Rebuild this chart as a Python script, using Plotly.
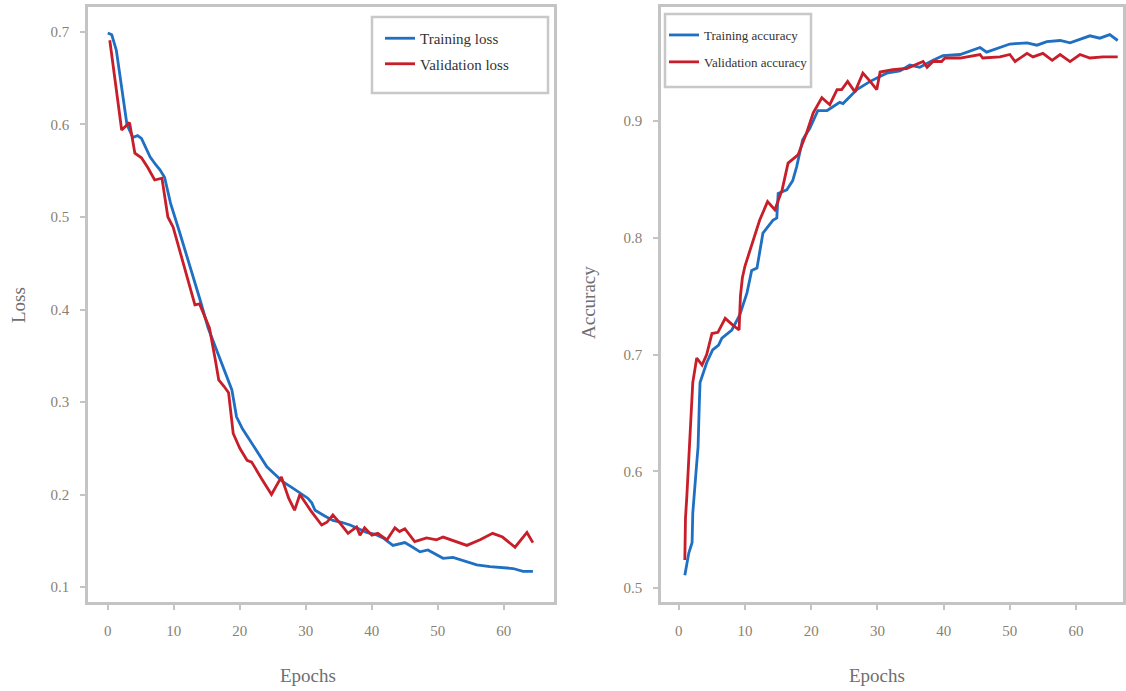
import plotly.graph_objects as go

# ---- Loss panel data ----
train_loss_epoch = [0, 0.6, 1.3, 1.8, 2.3, 2.9, 3.8, 4.5, 5.1, 5.8, 6.4, 7.2, 7.9, 8.6, 9.5, 10.9,
                    12.5, 14.0, 15.2, 16.5, 17.8, 18.8, 19.5, 20.4, 21.5, 22.8, 24.1, 25.3, 26.5,
                    27.8, 29.1, 30.3, 30.9, 31.4, 32.8, 34.1, 35.4, 36.7, 38.0, 39.2, 40.5, 41.7,
                    43.2, 45.0, 46.2, 47.3, 48.5, 49.7, 50.8, 52.3, 54.0, 55.9, 57.9, 59.6, 61.4,
                    62.9, 64.4]
train_loss = [0.699, 0.697, 0.680, 0.655, 0.626, 0.600, 0.586, 0.588, 0.585, 0.574, 0.565, 0.557,
              0.551, 0.543, 0.515, 0.483, 0.446, 0.410, 0.380, 0.355, 0.332, 0.313, 0.284, 0.271,
              0.259, 0.244, 0.230, 0.222, 0.214, 0.208, 0.202, 0.196, 0.191, 0.183, 0.177, 0.172,
              0.170, 0.167, 0.163, 0.159, 0.157, 0.153, 0.145, 0.148, 0.143, 0.138, 0.140, 0.135,
              0.131, 0.132, 0.128, 0.124, 0.122, 0.121, 0.120, 0.117, 0.117]

val_loss_epoch = [0.3, 1.2, 2.1, 2.7, 3.3, 4.1, 5.1, 6.1, 7.1, 8.2, 9.1, 9.9, 11.5, 13.2, 13.9,
                  15.4, 16.3, 16.8, 17.6, 18.3, 19.0, 20.0, 21.1, 21.8, 23.3, 24.8, 26.3, 27.4,
                  28.3, 29.1, 30.8, 32.4, 33.2, 34.1, 35.3, 36.4, 37.7, 38.2, 38.9, 40.0, 40.9,
                  42.3, 43.5, 44.2, 45.0, 46.5, 48.3, 49.8, 50.8, 52.3, 54.4, 56.4, 58.3, 59.8,
                  61.7, 63.5, 64.4]
val_loss = [0.691, 0.640, 0.594, 0.598, 0.602, 0.569, 0.564, 0.553, 0.540, 0.542, 0.500, 0.489,
            0.447, 0.405, 0.406, 0.380, 0.345, 0.324, 0.317, 0.310, 0.266, 0.250, 0.237, 0.235,
            0.217, 0.200, 0.219, 0.196, 0.183, 0.200, 0.182, 0.167, 0.170, 0.178, 0.168, 0.158,
            0.165, 0.156, 0.164, 0.156, 0.158, 0.151, 0.164, 0.160, 0.163, 0.149, 0.153, 0.151,
            0.154, 0.150, 0.145, 0.151, 0.158, 0.154, 0.143, 0.159, 0.148]

# ---- Accuracy panel data ----
train_acc_epoch = [0.9, 1.5, 2.0, 2.1, 2.6, 2.9, 3.1, 3.2, 4.2, 5.1, 6.0, 6.5, 8.0, 9.2, 10.3,
                   11.0, 11.8, 12.7, 14.2, 14.8, 15.0, 16.3, 17.2, 17.8, 18.7, 19.8, 21.0, 22.4,
                   24.3, 24.8, 26.9, 28.9, 31.4, 33.4, 34.9, 36.4, 38.4, 39.9, 42.5, 43.5, 45.5,
                   46.5, 48.0, 50.0, 52.6, 54.1, 55.6, 57.6, 59.1, 60.6, 62.1, 63.6, 65.1, 66.3]
train_acc = [0.511, 0.530, 0.539, 0.564, 0.600, 0.621, 0.660, 0.676, 0.693, 0.704, 0.708, 0.714,
             0.721, 0.734, 0.753, 0.772, 0.774, 0.804, 0.815, 0.817, 0.838, 0.841, 0.849, 0.861,
             0.884, 0.894, 0.909, 0.909, 0.916, 0.915, 0.927, 0.934, 0.941, 0.943, 0.948, 0.946,
             0.952, 0.956, 0.957, 0.959, 0.963, 0.959, 0.962, 0.966, 0.967, 0.965, 0.968, 0.969,
             0.967, 0.970, 0.973, 0.971, 0.974, 0.969]

val_acc_epoch = [0.9, 1.0, 1.2, 1.5, 2.1, 2.7, 3.5, 4.2, 5.0, 5.9, 7.0, 8.2, 9.1, 9.3, 9.6, 10.0,
                 10.7, 11.2, 12.2, 13.4, 14.5, 15.6, 16.5, 18.0, 19.3, 20.3, 21.6, 22.8, 23.9,
                 24.6, 25.5, 26.6, 27.8, 28.9, 29.9, 30.4, 32.3, 34.4, 36.9, 37.5, 38.4, 39.7,
                 40.2, 42.5, 45.5, 45.9, 48.5, 50.0, 50.8, 52.6, 53.5, 55.0, 56.4, 57.6, 59.1,
                 60.6, 62.1, 64.1, 66.3]
val_acc = [0.524, 0.560, 0.578, 0.610, 0.676, 0.697, 0.691, 0.700, 0.718, 0.719, 0.731, 0.725,
           0.721, 0.750, 0.766, 0.776, 0.789, 0.798, 0.815, 0.831, 0.824, 0.841, 0.864, 0.871,
           0.890, 0.907, 0.920, 0.914, 0.927, 0.927, 0.934, 0.925, 0.941, 0.934, 0.927, 0.942,
           0.944, 0.945, 0.951, 0.946, 0.951, 0.951, 0.954, 0.954, 0.957, 0.954, 0.955, 0.957,
           0.951, 0.958, 0.955, 0.958, 0.952, 0.957, 0.951, 0.957, 0.954, 0.955, 0.955]

x_ticks = [0, 10, 20, 30, 40, 50, 60]
loss_ticks = [0.1, 0.2, 0.3, 0.4, 0.5, 0.6, 0.7]
acc_ticks = [0.5, 0.6, 0.7, 0.8, 0.9]

BLUE = "#1f6fc2"
RED = "#c71e2a"
FRAME = "#c4c4c4"
TICKTXT = "#8a7f72"
TITLETXT = "#6f6f6f"
FONT = "Liberation Serif"
W, H = 1126, 691

fig = go.Figure()
fig.add_trace(go.Scatter(x=train_loss_epoch, y=train_loss, mode="lines", name="Training loss",
                         line=dict(color=BLUE, width=2.8), xaxis="x", yaxis="y",
                         legend="legend", legendgroup="a"))
fig.add_trace(go.Scatter(x=val_loss_epoch, y=val_loss, mode="lines", name="Validation loss",
                         line=dict(color=RED, width=2.8), xaxis="x", yaxis="y",
                         legend="legend", legendgroup="b"))
fig.add_trace(go.Scatter(x=train_acc_epoch, y=train_acc, mode="lines", name="Training accuracy",
                         line=dict(color=BLUE, width=2.8), xaxis="x2", yaxis="y2",
                         legend="legend2", legendgroup="c"))
fig.add_trace(go.Scatter(x=val_acc_epoch, y=val_acc, mode="lines", name="Validation accuracy",
                         line=dict(color=RED, width=2.8), xaxis="x2", yaxis="y2",
                         legend="legend2", legendgroup="d"))

def px_x(p):
    return p / W

def px_y(p):
    return 1 - p / H

axis_common = dict(showgrid=False, zeroline=False, showline=True, mirror=True,
                   linecolor=FRAME, linewidth=2.5, ticks="outside", ticklen=5,
                   tickcolor=FRAME, tickwidth=1.5,
                   tickfont=dict(family=FONT, size=15, color=TICKTXT),
                   ticklabelstandoff=8)

title_font = dict(family=FONT, size=19, color=TITLETXT)

fig.update_layout(
    width=W, height=H,
    margin=dict(l=0, r=0, t=0, b=0),
    paper_bgcolor="white", plot_bgcolor="white",
    xaxis=dict(domain=[px_x(88), px_x(554)], range=[-3.0, 67.6], tickvals=x_ticks,
               anchor="y", **axis_common),
    yaxis=dict(domain=[px_y(602), px_y(7)], range=[0.0838, 0.727], tickvals=loss_ticks,
               tickformat=".1f", anchor="x", **axis_common),
    xaxis2=dict(domain=[px_x(661), px_x(1123)], range=[-2.7, 67.1], tickvals=x_ticks,
                anchor="y2", **axis_common),
    yaxis2=dict(domain=[px_y(602), px_y(7)], range=[0.488, 0.9977], tickvals=acc_ticks,
                tickformat=".1f", anchor="x2", **axis_common),
    legend=dict(x=px_x(380), y=px_y(22), xanchor="left", yanchor="top",
                bgcolor="rgba(0,0,0,0)", borderwidth=0, tracegroupgap=3,
                font=dict(family=FONT, size=15, color="#333333")),
    legend2=dict(x=px_x(664), y=px_y(20), xanchor="left", yanchor="top",
                 bgcolor="rgba(0,0,0,0)", borderwidth=0, tracegroupgap=7,
                 font=dict(family=FONT, size=13, color="#333333")),
    shapes=[
        dict(type="rect", xref="paper", yref="paper", x0=px_x(372), x1=px_x(548),
             y0=px_y(93), y1=px_y(17), line=dict(color="#c8c8c8", width=2.5)),
        dict(type="rect", xref="paper", yref="paper", x0=px_x(665), x1=px_x(811),
             y0=px_y(87), y1=px_y(14), line=dict(color="#c8c8c8", width=2.5)),
    ],
    annotations=[
        dict(text="Loss", xref="paper", yref="paper", x=px_x(18), y=px_y(305),
             xanchor="center", yanchor="middle", showarrow=False, textangle=-90,
             font=title_font),
        dict(text="Accuracy", xref="paper", yref="paper", x=px_x(588), y=px_y(303),
             xanchor="center", yanchor="middle", showarrow=False, textangle=-90,
             font=title_font),
        dict(text="Epochs", xref="paper", yref="paper", x=px_x(308), y=px_y(675),
             xanchor="center", yanchor="middle", showarrow=False, font=title_font),
        dict(text="Epochs", xref="paper", yref="paper", x=px_x(877), y=px_y(675),
             xanchor="center", yanchor="middle", showarrow=False, font=title_font),
    ],
)

fig.write_html("out.html")
